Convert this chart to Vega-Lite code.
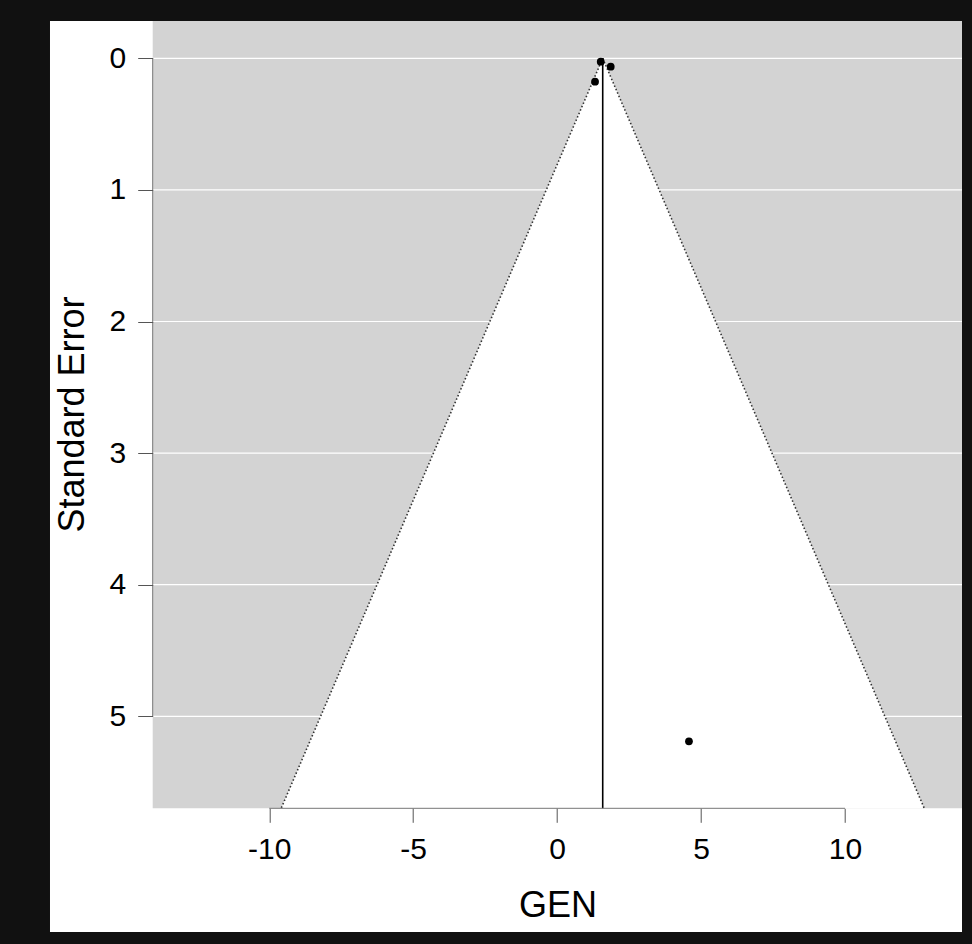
{
  "$schema": "https://vega.github.io/schema/vega-lite/v6.json",
  "width": 809.3,
  "height": 787.3,
  "autosize": {"type": "none"},
  "padding": {"left": 152.7, "top": 21, "right": 10, "bottom": 135.7},
  "background": "#111111",
  "config": {
    "view": {"fill": "#d3d3d3", "stroke": null},
    "font": "Liberation Sans"
  },
  "datasets": {
    "frame": [{"x": -17.617, "x2": 14.065, "y": -0.2834, "y2": 6.639}],
    "bg": [{"x": -14.049, "x2": 14.065, "y": -0.2834, "y2": 5.699}],
    "grid": [
      {"y": 0, "x": -14.049, "x2": 14.065},
      {"y": 1, "x": -14.049, "x2": 14.065},
      {"y": 2, "x": -14.049, "x2": 14.065},
      {"y": 3, "x": -14.049, "x2": 14.065},
      {"y": 4, "x": -14.049, "x2": 14.065},
      {"y": 5, "x": -14.049, "x2": 14.065}
    ],
    "funnel": [
      {"y": 0, "x": 1.584, "x2": 1.584},
      {"y": 5.699, "x": -9.586, "x2": 12.754}
    ],
    "edges": [
      {"side": "left", "x": 1.584, "y": 0, "x2": -9.586, "y2": 5.699},
      {"side": "right", "x": 1.584, "y": 0, "x2": 12.754, "y2": 5.699}
    ],
    "estimate": [{"x": 1.584, "y": 0, "y2": 5.699}],
    "studies": [
      {"study": 1, "x": 1.515, "y": 0.026},
      {"study": 2, "x": 1.862, "y": 0.064},
      {"study": 3, "x": 1.317, "y": 0.178},
      {"study": 4, "x": 4.58, "y": 5.19}
    ],
    "xline": [{"x": -10, "x2": 10, "y": 5.699}],
    "yline": [{"y": 0, "y2": 5, "x": -14.049}]
  },
  "encoding": {
    "x": {"field": "x", "type": "quantitative",
      "scale": {"domain": [-14.049, 14.065], "zero": false, "nice": false, "clamp": false},
      "axis": {
        "values": [-10, -5, 0, 5, 10],
        "labelExpr": "'' + datum.value",
        "zindex": 1,
        "domain": false,
        "grid": false,
        "ticks": true,
        "tickSize": 14,
        "tickColor": "#555555",
        "tickWidth": 1,
        "labelFont": "Liberation Sans",
        "labelFontSize": 30,
        "labelColor": "#000000",
        "labelBaseline": "alphabetic",
        "labelPadding": 35.7,
        "labelFlush": false,
        "labelOverlap": false,
        "title": "GEN",
        "titleFont": "Liberation Sans",
        "titleFontSize": 36,
        "titleFontWeight": "normal",
        "titleColor": "#000000",
        "titleX": 404.8,
        "titleY": 107.7,
        "titleBaseline": "alphabetic",
        "titleAlign": "center",
        "titleAngle": 0
      }
    },
    "y": {"field": "y", "type": "quantitative",
      "scale": {"domain": [-0.2834, 5.699], "zero": false, "nice": false, "reverse": true, "clamp": false},
      "axis": {
        "values": [0, 1, 2, 3, 4, 5],
        "labelExpr": "'' + datum.value",
        "zindex": 1,
        "domain": false,
        "grid": false,
        "ticks": true,
        "tickSize": 15,
        "tickColor": "#555555",
        "tickWidth": 1,
        "labelFont": "Liberation Sans",
        "labelFontSize": 30,
        "labelColor": "#000000",
        "labelPadding": 12,
        "labelFlush": false,
        "labelOverlap": false,
        "title": "Standard Error",
        "titleFont": "Liberation Sans",
        "titleFontSize": 36,
        "titleFontWeight": "normal",
        "titleColor": "#000000",
        "titleX": -69.7,
        "titleY": 393,
        "titleAngle": -90,
        "titleBaseline": "alphabetic",
        "titleAlign": "center"
      }
    }
  },
  "layer": [
    {
      "data": {"name": "frame"},
      "mark": {"type": "rect", "fill": "#ffffff", "clip": false},
      "encoding": {"x2": {"field": "x2"}, "y2": {"field": "y2"}}
    },
    {
      "data": {"name": "bg"},
      "mark": {"type": "rect", "fill": "#d3d3d3"},
      "encoding": {"x2": {"field": "x2"}, "y2": {"field": "y2"}}
    },
    {
      "data": {"name": "grid"},
      "mark": {"type": "rule", "color": "#ffffff", "strokeWidth": 1.2},
      "encoding": {"x2": {"field": "x2"}}
    },
    {
      "data": {"name": "funnel"},
      "mark": {"type": "area", "orient": "horizontal", "fill": "#ffffff", "stroke": null},
      "encoding": {"x2": {"field": "x2"}}
    },
    {
      "data": {"name": "edges"},
      "mark": {"type": "rule", "color": "#333333", "strokeWidth": 1.6, "strokeDash": [1.5, 2.2]},
      "encoding": {"x2": {"field": "x2"}, "y2": {"field": "y2"}}
    },
    {
      "data": {"name": "estimate"},
      "mark": {"type": "rule", "color": "#000000", "strokeWidth": 1.6},
      "encoding": {"y2": {"field": "y2"}}
    },
    {
      "data": {"name": "xline"},
      "mark": {"type": "rule", "color": "#777777", "strokeWidth": 1},
      "encoding": {"x2": {"field": "x2"}}
    },
    {
      "data": {"name": "yline"},
      "mark": {"type": "rule", "color": "#777777", "strokeWidth": 1},
      "encoding": {"y2": {"field": "y2"}}
    },
    {
      "data": {"name": "studies"},
      "mark": {"type": "circle", "color": "#000000", "opacity": 1, "size": 60},
      "encoding": {}
    }
  ]
}
